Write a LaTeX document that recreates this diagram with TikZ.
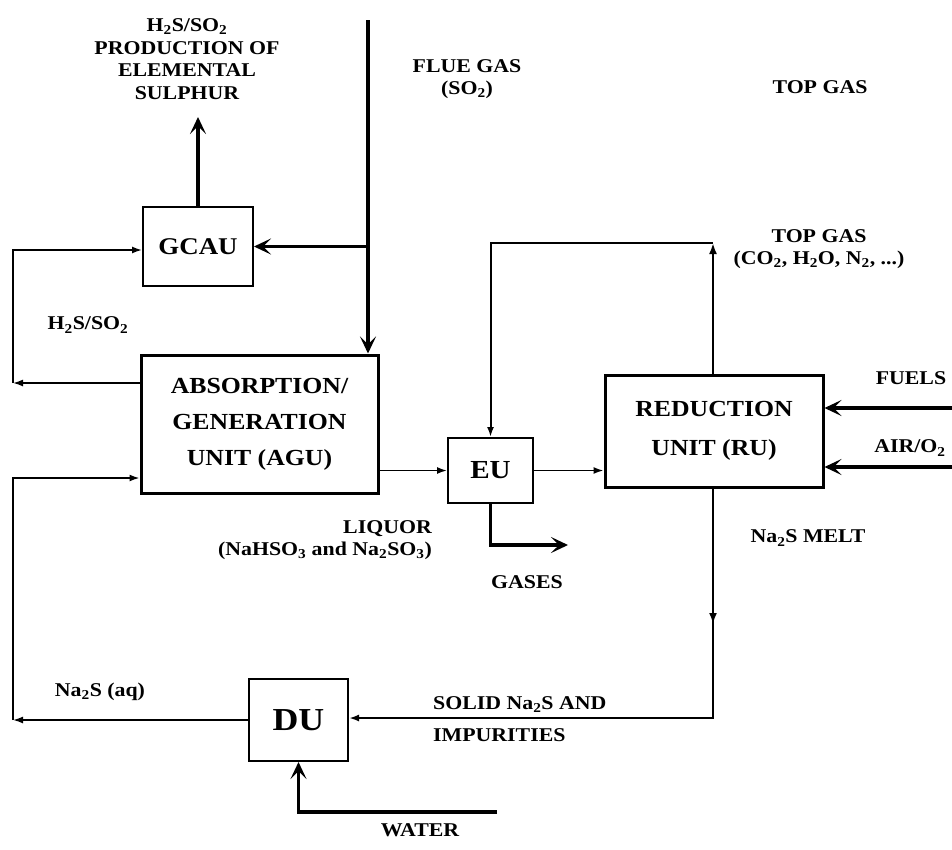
\documentclass[tikz,border=0pt]{standalone}
\usepackage{fontspec}
\setmainfont{Liberation Serif}[FakeStretch=1.12]
\usetikzlibrary{arrows.meta}
\newcommand{\sbs}[1]{\textsubscript{#1}}
\begin{document}
\begin{tikzpicture}[x=1pt,y=-1pt,
  box/.style={draw, line width=2pt, inner sep=0pt, align=center, font=\bfseries\fontsize{23}{36}\selectfont},
  lbl/.style={inner sep=0pt, align=center, font=\bfseries\fontsize{19.5}{22.5}\selectfont},
  thinarrow/.style={line width=1.6pt, -{Latex[length=10pt,width=7pt]}},
  midarrow/.style={line width=2.2pt, -{Latex[length=11pt,width=8pt]}},
  thickarrow/.style={line width=3.2pt, -{Stealth[length=17pt,width=16pt,inset=8pt]}},
  thickline/.style={line width=3.2pt}]
\useasboundingbox (0,0) rectangle (952,849);

% units
\node[box, minimum width=110pt, minimum height=79pt, font=\bfseries\fontsize{24}{28}\selectfont] (gcau) at (198,246.5) {GCAU};
\node[box, line width=3pt, minimum width=237pt, minimum height=138pt] (agu) at (259.5,424) {ABSORPTION/\\GENERATION\\UNIT (AGU)};
\node[box, minimum width=85pt, minimum height=65pt, font=\bfseries\fontsize{26}{30}\selectfont] (eu) at (490.5,470.5) {EU};
\node[box, line width=3pt, minimum width=218pt, minimum height=112pt, font=\bfseries\fontsize{23}{39}\selectfont] (ru) at (714,431) {REDUCTION\\UNIT (RU)};
\node[box, minimum width=99pt, minimum height=82pt, font=\bfseries\fontsize{32}{36}\selectfont] (du) at (298.5,720) {DU};

% labels
\node[lbl] (sulph) at (187,59) {H\sbs{2}S/SO\sbs{2}\\PRODUCTION OF\\ELEMENTAL\\SULPHUR};
\node[lbl] (flue) at (467,79) {FLUE GAS\\(SO\sbs{2})};
\node[lbl] (topgas1) at (820,87) {TOP GAS};
\node[lbl] (topgas2) at (819,249) {TOP GAS\\(CO\sbs{2}, H\sbs{2}O, N\sbs{2}, ...)};
\node[lbl] (hs) at (88,325) {H\sbs{2}S/SO\sbs{2}};
\node[lbl] (fuels) at (911,378) {FUELS};
\node[lbl] (air) at (910,448) {AIR/O\sbs{2}};
\node[lbl, anchor=east, align=right] (liquor) at (432,540) {LIQUOR\\(NaHSO\sbs{3} and Na\sbs{2}SO\sbs{3})};
\node[lbl] (melt) at (808,538) {Na\sbs{2}S MELT};
\node[lbl] (gases) at (527,582) {GASES};
\node[lbl] (aq) at (100,692) {Na\sbs{2}S (aq)};
\node[lbl, anchor=west, align=left, font=\bfseries\fontsize{19.5}{32}\selectfont] (solid) at (433,719) {SOLID Na\sbs{2}S AND\\IMPURITIES};
\node[lbl] (water) at (420,830) {WATER};

% flue gas
\coordinate (fluetop) at (368,20);
\coordinate (br) at (368,246.5);
\draw[thickarrow] (fluetop) -- (fluetop |- agu.north);
\draw[thickarrow] (br) -- (gcau.east);
\coordinate (sulphtip) at (198,117);
\draw[thickarrow] (gcau.north) -- (sulphtip);

% H2S/SO2 recycle
\coordinate (l1) at (13,383);
\coordinate (l2) at (13,250);
\draw[thinarrow] (l1) -- (l2) -- (gcau.west |- l2);
\draw[thinarrow] (agu.west |- l1) -- (l1);

% Na2S (aq) recycle
\coordinate (l3) at (13,720);
\coordinate (l4) at (13,478);
\draw[thinarrow] (l3) -- (l4) -- (agu.west |- l4);
\draw[thinarrow] (du.west) -- (l3);

% liquor path
\draw[thinarrow] (agu.east |- eu.west) -- (eu.west);
\draw[thinarrow] (eu.east) -- (ru.west |- eu.east);

% top gas
\coordinate (tg) at (713,243);
\draw[line width=2pt, -{Latex[length=10pt,width=7pt]}] (tg) -- (eu.north |- tg) -- (eu.north);
\draw[midarrow] (ru.north -| tg) -- (tg);

% fuels and air
\coordinate (fuelin) at (952,408);
\coordinate (airin) at (952,467);
\draw[thickarrow] (fuelin) -- (ru.east |- fuelin);
\draw[thickarrow] (airin) -- (ru.east |- airin);

% gases
\coordinate (g1) at (490.5,545);
\coordinate (g2) at (568,545);
\draw[thickarrow] (eu.south) -- (g1) -- (g2);

% melt to DU
\coordinate (m1) at (713,624);
\coordinate (m2) at (713,718);
\draw[line width=2pt, -{Latex[length=10pt,width=7pt]}] (ru.south -| m1) -- (m2) -- (du.east |- m2);
\draw[midarrow] (ru.south -| m1) -- (m1);

% water
\coordinate (w1) at (497,812);
\coordinate (w2) at (298.5,812);
\draw[thickarrow] (w1) -- (w2) -- (du.south);
\end{tikzpicture}
\end{document}
